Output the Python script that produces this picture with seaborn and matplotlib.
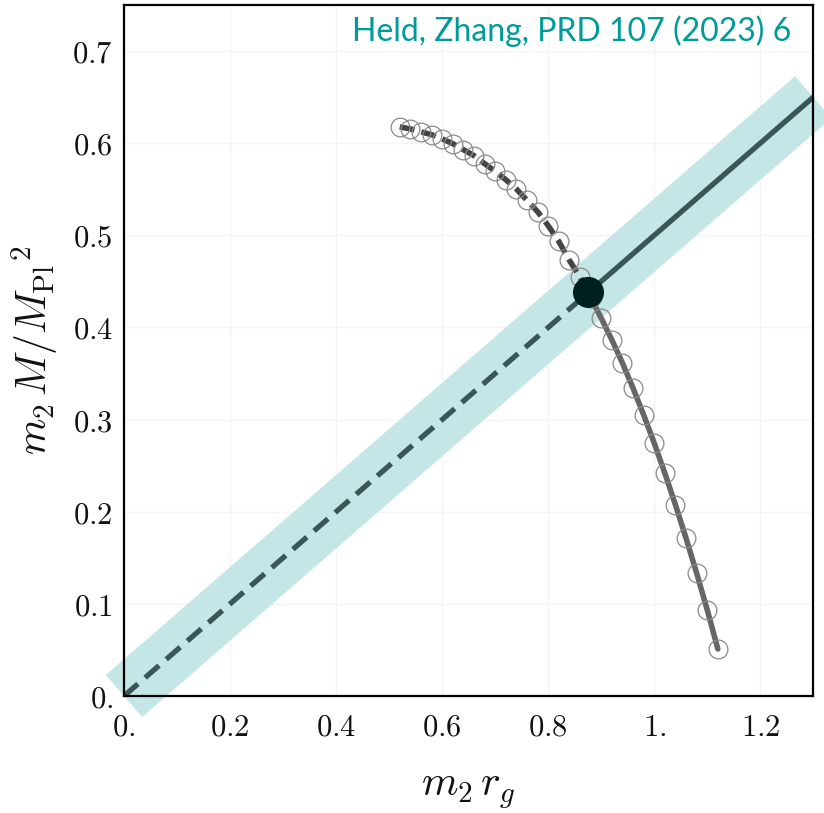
import matplotlib
matplotlib.use("Agg")
import matplotlib.pyplot as plt
import seaborn as sns

# ---- data ----
curve_x = [0.52, 0.54, 0.56, 0.58, 0.60, 0.62, 0.64, 0.66, 0.68, 0.70,
           0.72, 0.74, 0.76, 0.78, 0.80, 0.82, 0.84, 0.86, 0.88, 0.90,
           0.92, 0.94, 0.96, 0.98, 1.00, 1.02, 1.04, 1.06, 1.08, 1.10, 1.12]
curve_y = [0.6177, 0.6155, 0.6123, 0.6093, 0.6046, 0.5995, 0.5930, 0.5865,
           0.5778, 0.5695, 0.5604, 0.5503, 0.5380, 0.5257, 0.5105, 0.4934,
           0.4728, 0.4548, 0.4325, 0.4102, 0.3867, 0.3614, 0.3342, 0.3052,
           0.2745, 0.2419, 0.2075, 0.1713, 0.1333, 0.0934, 0.0510]
split_index = 18  # dashed above the intersection, solid below

line_x = [0.0, 0.876, 1.3]
line_y = [0.0, 0.438, 0.65]

cross_x = [0.876]
cross_y = [0.438]

xticks = [0.0, 0.2, 0.4, 0.6, 0.8, 1.0, 1.2]
xtick_labels = ["0.", "0.2", "0.4", "0.6", "0.8", "1.", "1.2"]
yticks = [0.0, 0.1, 0.2, 0.3, 0.4, 0.5, 0.6, 0.7]
ytick_labels = ["0.", "0.1", "0.2", "0.3", "0.4", "0.5", "0.6", "0.7"]

credit = "Held, Zhang, PRD 107 (2023) 6"

# ---- style ----
sns.set_theme(style="white")
plt.rcParams["mathtext.fontset"] = "cm"
plt.rcParams["font.family"] = ["DejaVu Sans"]

fig = plt.figure(figsize=(8.24, 8.13), dpi=100)
ax = fig.add_axes([124 / 824, (813 - 696) / 813, (813.3 - 124) / 824, (696 - 5) / 813])

band_color = "#c5e6e6"
line_color = "#3a5656"
curve_dash_color = "#444444"
curve_solid_color = "#666666"

# band (thick line)
sns.lineplot(x=[line_x[0], line_x[-1]], y=[line_y[0], line_y[-1]], ax=ax,
             color=band_color, linewidth=40, solid_capstyle="butt",
             clip_on=False, sort=False, estimator=None, zorder=1)

# teal line: dashed to intersection, solid beyond
sns.lineplot(x=line_x[:2], y=line_y[:2], ax=ax, color=line_color, linewidth=3.8,
             linestyle=(0, (3.5, 1.8)), dash_capstyle="butt",
             sort=False, estimator=None, zorder=3)
sns.lineplot(x=line_x[1:], y=line_y[1:], ax=ax, color=line_color, linewidth=3.8,
             sort=False, estimator=None, zorder=3)

# curve: dashed and solid parts
sns.lineplot(x=curve_x[:split_index + 1], y=curve_y[:split_index + 1], ax=ax,
             color=curve_dash_color, linewidth=4.0, linestyle=(0, (2.7, 1.3)),
             dash_capstyle="butt", sort=False, estimator=None, zorder=4)
sns.lineplot(x=curve_x[split_index:], y=curve_y[split_index:], ax=ax,
             color=curve_solid_color, linewidth=4.0,
             sort=False, estimator=None, zorder=4)

# open circles
ax.plot(curve_x, curve_y, linestyle="none", marker="o", markersize=13.5,
        markerfacecolor="none", markeredgecolor="#8a8a8a", markeredgewidth=0.9,
        zorder=5)

# intersection point
sns.scatterplot(x=cross_x, y=cross_y, ax=ax, s=500, color="#002020",
                edgecolor="none", zorder=6)

ax.set_xlim(0, 1.3)
ax.set_ylim(0, 0.75)
ax.set_xticks(xticks)
ax.set_xticklabels(["$" + t + "$" for t in xtick_labels])
ax.set_yticks(yticks)
ax.set_yticklabels(["$" + t + "$" for t in ytick_labels])
ax.tick_params(axis="both", direction="in", length=3, width=1, color="#333333",
               labelsize=22, labelcolor="#111111")
ax.tick_params(axis="x", pad=12)
ax.tick_params(axis="y", pad=8)

ax.grid(True, color="#f4f4f4", linewidth=1)
ax.set_axisbelow(True)
for s in ax.spines.values():
    s.set_color("black")
    s.set_linewidth(1.6)
    s.set_zorder(10)

ax.set_xlabel(r"$m_2\,r_g$", fontsize=30, labelpad=20, color="#111111")
ax.set_ylabel(r"$m_2\,M/{M_{\mathrm{Pl}}}^2$", fontsize=30, labelpad=8, color="#111111")

ax.text(0.968, 0.985, credit, transform=ax.transAxes, ha="right", va="top",
        fontsize=23, family=["Lato", "DejaVu Sans"], color="#009a9a", zorder=11)

fig.savefig("out.png", dpi=100)
